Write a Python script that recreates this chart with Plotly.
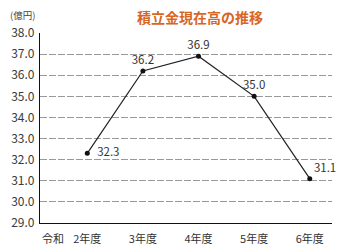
import plotly.graph_objects as go

categories = ["2年度", "3年度", "4年度", "5年度", "6年度"]
values = [32.3, 36.2, 36.9, 35.0, 31.1]
label_positions = ["middle right", "top center", "top center", "top center", "top right"]
y_ticks = [29, 30, 31, 32, 33, 34, 35, 36, 37, 38]
y_tick_text = [f"{v:.1f}" for v in y_ticks]

font_family = "Noto Sans CJK JP, Noto Sans, sans-serif"
xs = list(range(len(categories)))
texts = [f"{v:.1f}" for v in values]
texts[0] = "\u2002" + texts[0]

fig = go.Figure()
fig.add_trace(go.Scatter(
    x=xs, y=values,
    mode="lines+markers+text",
    line=dict(color="#222222", width=1.2),
    marker=dict(color="#111111", size=5),
    text=texts,
    textposition=label_positions,
    textfont=dict(family=font_family, size=11.5, color="#333333"),
    cliponaxis=False,
    showlegend=False,
))

fig.update_layout(
    width=349, height=250,
    margin=dict(l=40, r=17, t=33, b=27),
    paper_bgcolor="white", plot_bgcolor="white",
    font=dict(family=font_family, color="#333333"),
    xaxis=dict(
        range=[-0.85, 4.4],
        tickmode="array", tickvals=xs, ticktext=categories,
        showline=True, linecolor="#111111", linewidth=1.2,
        showgrid=False, zeroline=False, ticks="",
        ticklabelstandoff=6, automargin=False,
        tickfont=dict(size=11, color="#333333"),
        fixedrange=True,
    ),
    yaxis=dict(
        range=[29, 38],
        tickmode="array", tickvals=y_ticks, ticktext=y_tick_text,
        showline=True, linecolor="#111111", linewidth=1.2,
        showgrid=True, gridcolor="#999999", gridwidth=1, griddash="7px,2px",
        zeroline=False, ticks="",
        ticklabelstandoff=2, automargin=False,
        tickfont=dict(size=12, color="#3a3a3a"),
        fixedrange=True,
    ),
)
fig.add_annotation(text="<b>積立金現在高の推移</b>", xref="paper", yref="paper",
                   x=(200 - 40) / 292, y=1 + (33 - 17) / 190, showarrow=False,
                   xanchor="center", yanchor="middle",
                   font=dict(size=14, color="#D9661F", family=font_family))
fig.add_annotation(text="(億円)", xref="paper", yref="paper",
                   x=(22 - 40) / 292, y=1 + (33 - 15) / 190, showarrow=False,
                   xanchor="center", yanchor="middle",
                   font=dict(size=9.5, color="#444444", family=font_family))
fig.add_annotation(text="令和", xref="paper", yref="paper",
                   x=(53 - 40) / 292, y=-(238 - 223) / 190, showarrow=False,
                   xanchor="center", yanchor="middle",
                   font=dict(size=11, color="#333333", family=font_family))

fig.write_html("out.html")
